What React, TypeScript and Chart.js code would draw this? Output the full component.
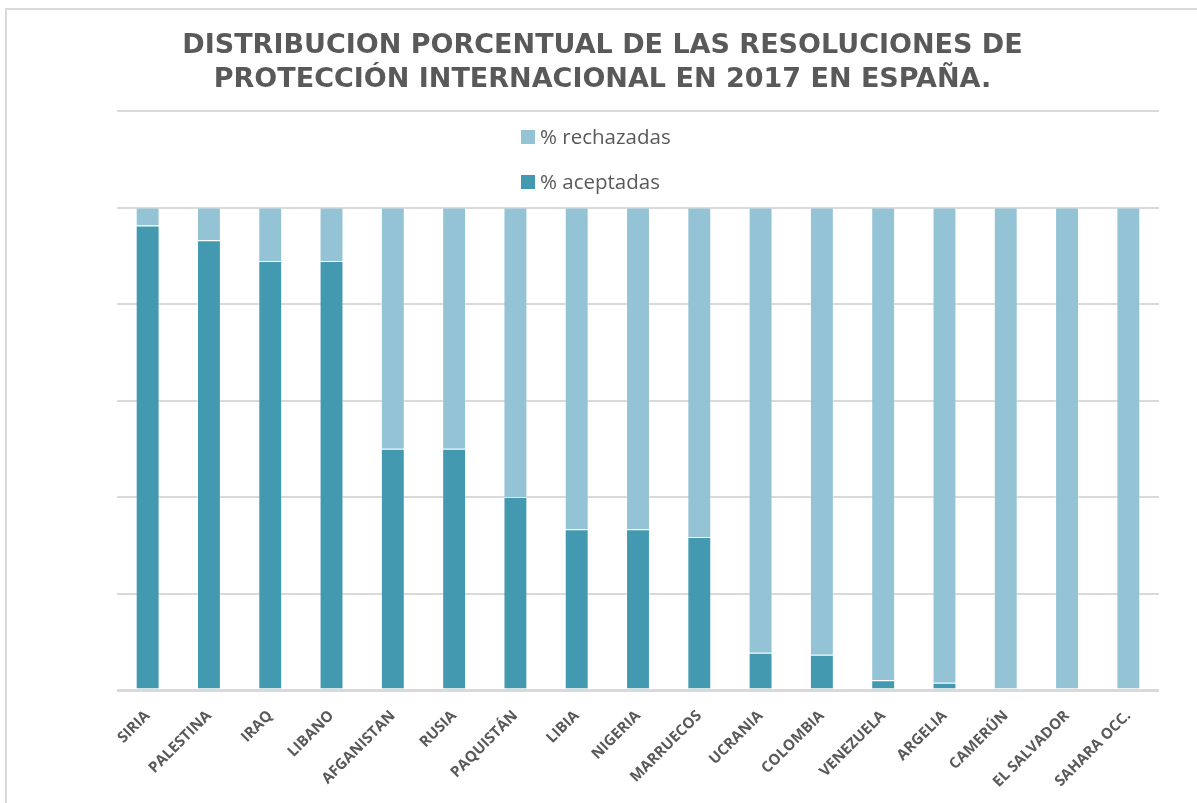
import React, { useEffect, useRef } from "react";
import { Chart, registerables } from "chart.js";

Chart.register(...registerables);

const categories = [
  "SIRIA", "PALESTINA", "IRAQ", "LIBANO", "AFGANISTAN", "RUSIA", "PAQUISTÁN", "LIBIA",
  "NIGERIA", "MARRUECOS", "UCRANIA", "COLOMBIA", "VENEZUELA", "ARGELIA", "CAMERÚN",
  "EL SALVADOR", "SAHARA OCC.",
];
const aceptadas = [96.3, 93.2, 88.9, 88.9, 50, 50, 40, 33.3, 33.3, 31.7, 7.7, 7.3, 2, 1.5, 0, 0, 0];
const rechazadas = [3.7, 6.8, 11.1, 11.1, 50, 50, 60, 66.7, 66.7, 68.3, 92.3, 92.7, 98, 98.5, 100, 100, 100];
const seriesLabels = ["% aceptadas", "% rechazadas"];
const seriesColors = ["#4399b0", "#93c3d5"];
const yMin = 0;
const yMax = 120;
const yStep = 20;
const titleLines = [
  "DISTRIBUCION PORCENTUAL DE LAS RESOLUCIONES DE",
  "PROTECCIÓN INTERNACIONAL EN 2017 EN ESPAÑA.",
];

const TEXT_COLOR = "#595959";
const GRID_COLOR = "#d9d9d9";

const insideLegend = {
  id: "insideLegend",
  afterDraw(chart: any) {
    const ctx = chart.ctx;
    const datasets = [...chart.data.datasets].reverse();
    ctx.save();
    ctx.font = "20.5px 'Open Sans'";
    ctx.textBaseline = "middle";
    ctx.textAlign = "left";
    const x0 = 521;
    datasets.forEach((ds: any, i: number) => {
      const y = 137 + i * 45;
      ctx.fillStyle = ds.backgroundColor;
      ctx.fillRect(x0, y - 7, 14, 14);
      ctx.fillStyle = TEXT_COLOR;
      ctx.fillText(ds.label, x0 + 19, y + 1);
    });
    ctx.restore();
  },
};

export default function App() {
  const canvasRef = useRef<HTMLCanvasElement | null>(null);

  useEffect(() => {
    if (!canvasRef.current) return;
    const chart = new Chart(canvasRef.current, {
      type: "bar",
      data: {
        labels: categories,
        datasets: [
          {
            label: seriesLabels[0],
            data: aceptadas,
            backgroundColor: seriesColors[0],
            borderColor: "rgba(255,255,255,0.3)",
            borderWidth: 1,
            barPercentage: 0.39,
            categoryPercentage: 1,
          },
          {
            label: seriesLabels[1],
            data: rechazadas,
            backgroundColor: seriesColors[1],
            borderColor: "rgba(255,255,255,0.3)",
            borderWidth: 1,
            barPercentage: 0.39,
            categoryPercentage: 1,
          },
        ],
      },
      options: {
        responsive: false,
        animation: false,
        layout: { padding: { left: 46, right: 38, top: 0, bottom: 0 } },
        plugins: {
          legend: { display: false },
          tooltip: { enabled: false },
          title: {
            display: true,
            text: titleLines,
            color: TEXT_COLOR,
            font: { family: "'DejaVu Sans'", weight: "bold", size: 27, lineHeight: 1.26 },
            padding: { top: 29, bottom: 14 },
          },
        },
        scales: {
          x: {
            stacked: true,
            grid: { display: false },
            border: { display: false },
            ticks: {
              color: TEXT_COLOR,
              font: { family: "'Open Sans'", weight: "bold", size: 15 },
              maxRotation: 45,
              minRotation: 45,
              autoSkip: false,
              padding: 9,
            },
            afterFit: (scale: any) => {
              scale.height = 113;
            },
          },
          y: {
            stacked: true,
            min: yMin,
            max: yMax,
            ticks: { display: false, stepSize: yStep },
            border: { display: false },
            grid: {
              color: GRID_COLOR,
              lineWidth: (ctx: any) => (ctx.tick && ctx.tick.value === 0 ? 3 : 2),
              drawTicks: false,
            },
            afterFit: (scale: any) => {
              scale.width = 71;
            },
          },
        },
      },
      plugins: [insideLegend],
    });
    return () => chart.destroy();
  }, []);

  return (
    <div
      style={{
        position: "fixed",
        left: 0,
        top: 0,
        width: 1197,
        height: 803,
        overflow: "hidden",
        background: "#ffffff",
      }}
    >
      <div
        style={{
          position: "absolute",
          left: 5,
          top: 8,
          width: 1400,
          height: 1000,
          border: `2px solid ${GRID_COLOR}`,
          boxSizing: "border-box",
        }}
      />
      <canvas
        ref={canvasRef}
        width={1197}
        height={803}
        style={{ position: "absolute", left: 0, top: 0, width: 1197, height: 803 }}
      />
    </div>
  );
}
